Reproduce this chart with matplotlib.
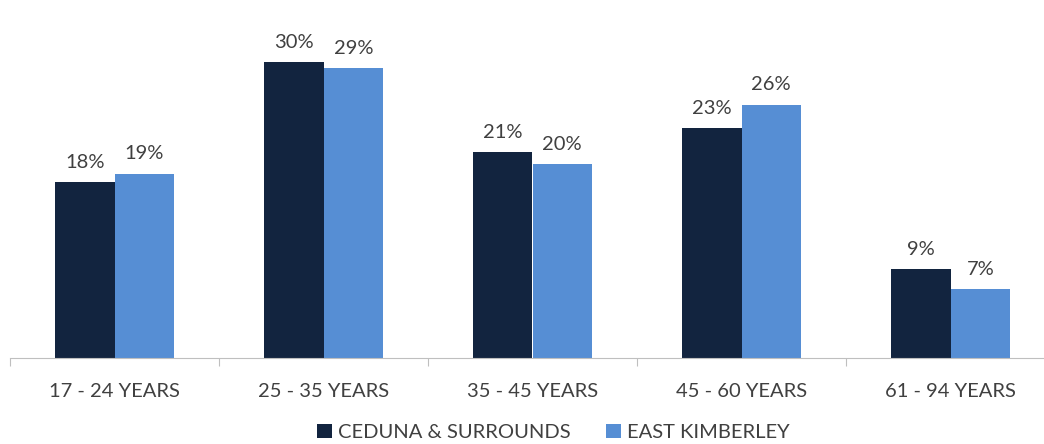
import matplotlib.pyplot as plt
import numpy as np

# Age groups and share of respondents (%)
categories = ["17 - 24 YEARS", "25 - 35 YEARS", "35 - 45 YEARS", "45 - 60 YEARS", "61 - 94 YEARS"]
ceduna = [17.8, 30.0, 20.9, 23.3, 9.0]
kimberley = [18.7, 29.4, 19.7, 25.7, 7.0]
series_names = ["CEDUNA & SURROUNDS", "EAST KIMBERLEY"]

dark = "#12243f"
light = "#568ed4"
text_col = "#404040"

plt.rcParams["font.family"] = ["Lato", "DejaVu Sans"]

fig = plt.figure(figsize=(10.44, 4.44), dpi=100)
ax = fig.add_axes([10 / 1044, 86 / 444, 1045 / 1044, 358 / 444])

x = np.arange(len(categories))
w = 0.285
b1 = ax.bar(x - w / 2, ceduna, w, color=dark, label=series_names[0])
b2 = ax.bar(x + w / 2, kimberley, w, color=light, label=series_names[1])

for bars, vals in [(b1, ceduna), (b2, kimberley)]:
    for rect, v in zip(bars, vals):
        ax.annotate(f"{v:.0f}%", (rect.get_x() + rect.get_width() / 2, rect.get_height()),
                    xytext=(0, 8), textcoords="offset points", ha="center", va="bottom",
                    fontsize=14.5, color=text_col)

ax.set_xlim(-0.5, 4.5)
ax.set_ylim(0, 36.3)
ax.set_yticks([])
for s in ["top", "right", "left"]:
    ax.spines[s].set_visible(False)
ax.spines["bottom"].set_color("#bfbfbf")

ax.set_xticks(np.arange(-0.5, 5, 1))
ax.set_xticklabels([])
ax.set_xticks(x, minor=True)
ax.set_xticklabels(categories, minor=True, fontsize=14.5, color=text_col)
ax.tick_params(axis="x", which="major", length=6, color="#bfbfbf")
ax.tick_params(axis="x", which="minor", length=0, pad=18)

fig.legend(loc="lower center", bbox_to_anchor=(0.53, -0.035), ncol=2, frameon=False,
           fontsize=14.5, labelcolor=text_col, handlelength=0.7, handleheight=0.7,
           handletextpad=0.3, columnspacing=1.8)

fig.savefig("out.png", dpi=100)
